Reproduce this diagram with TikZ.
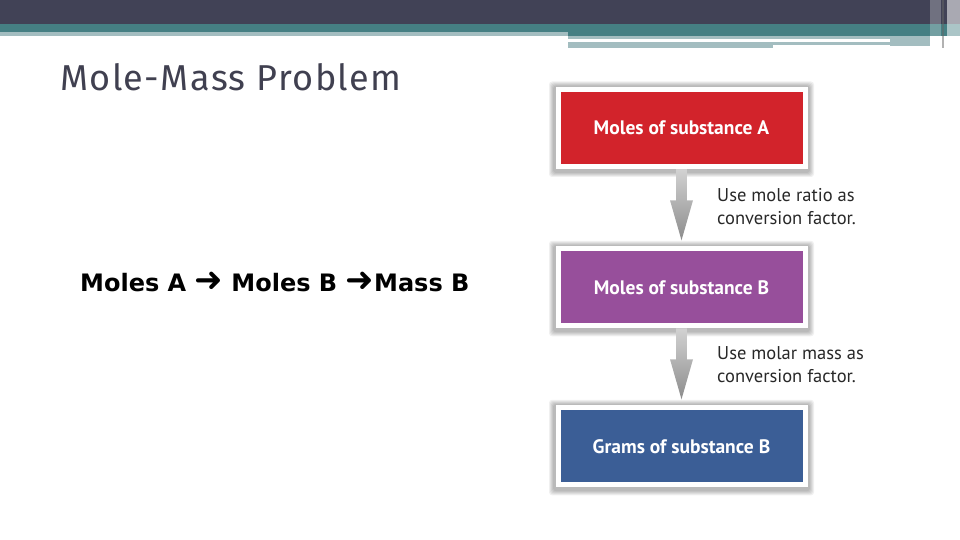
\documentclass[tikz,border=0pt]{standalone}
\usepackage{fontspec}
\setmainfont{PT Sans}
\newfontfamily\titlefont[LetterSpace=4]{Fira Sans}
\newfontfamily\bodyfont{DejaVu Sans}
\usetikzlibrary{calc}
\pgfdeclarelayer{background}
\pgfsetlayers{background,main}
\definecolor{topdark}{RGB}{65,66,86}
\definecolor{teal}{RGB}{69,127,131}
\definecolor{lightteal}{RGB}{163,189,192}
\definecolor{titlegray}{RGB}{64,64,80}
\definecolor{boxred}{RGB}{210,35,43}
\definecolor{boxpurple}{RGB}{151,79,155}
\definecolor{boxblue}{RGB}{59,94,150}
\definecolor{arrowtop}{RGB}{210,210,210}
\definecolor{arrowbot}{RGB}{140,140,140}
\definecolor{labelgray}{RGB}{40,40,40}
\tikzset{
  flowbox/.style={draw=white, line width=5pt, minimum width=247pt, minimum height=77pt,
    inner sep=0pt, text=white, font=\fontsize{19.5}{22}\selectfont\bfseries},
  sidelabel/.style={anchor=north west, align=left, inner sep=0pt, text=labelgray,
    font=\fontsize{18.5}{23}\selectfont},
  flowarrow/.style={top color=arrowtop, bottom color=arrowbot},
  glowlayer/.style={fill=black, opacity=0.06, rounded corners=3pt}
}
\newcommand{\boxglow}[1]{%
  \foreach \g in {2.5,3.5,4.5,5.5,6.5}{%
    \fill[glowlayer] ($(#1.south west)+(-\g pt,-\g pt-1.5pt)$) rectangle ($(#1.north east)+(\g pt,\g pt-1pt)$);
  }}
\begin{document}
\begin{tikzpicture}[x=1pt,y=-1pt]
\useasboundingbox (0,0) rectangle (960,540);
\begin{pgfonlayer}{background}
\fill[white] (0,0) rectangle (960,540);
\end{pgfonlayer}
% top banner
\fill[topdark] (0,0) rectangle (960,24);
\fill[teal] (0,24) rectangle (960,32);
\fill[teal] (568,32) rectangle (960,36);
\fill[lightteal] (0,32) rectangle (568,36);
\fill[lightteal] (568,36) rectangle (930,39);
\fill[lightteal] (568,42) rectangle (773,48.5);
\fill[lightteal] (773,42) rectangle (890,45.3);
\fill[lightteal] (890,39) rectangle (930,46);
\fill[white, opacity=0.25] (930,0) rectangle (941,48);
\fill[white, opacity=0.55] (947,0) rectangle (960,48);
\fill[black!60, opacity=0.5] (942,0) rectangle (944,48);
% title
\node[anchor=base west, inner sep=0pt, text=titlegray, font=\titlefont\fontsize{36}{40}\selectfont]
  (title) at (60,91) {Mole-Mass Problem};
% body text
\node[anchor=base west, inner sep=0pt, font=\bodyfont\bfseries\fontsize{24}{28}\selectfont]
  (body) at (80,291.5) {Moles A {\fontsize{34}{34}\selectfont ➜} Moles B {\fontsize{34}{34}\selectfont ➜}Mass B};
% flowchart boxes
\node[flowbox, fill=boxred] (A) at (681.5,128) {Moles of substance A};
\node[flowbox, fill=boxpurple] (B) at (681.5,287.3) {Moles of substance B};
\node[flowbox, fill=boxblue] (C) at (681.5,446.3) {Grams of substance B};
\begin{pgfonlayer}{background}
\boxglow{A}
\boxglow{B}
\boxglow{C}
\shade[flowarrow] let \p1=(A.south), \p2=(B.north) in
  (\x1-5.3pt,\y1) -- (\x1+5.3pt,\y1) -- (\x1+5.3pt,\y2+46pt) -- (\x1+11.5pt,\y2+46pt)
  -- (\x1,\y2+6pt) -- (\x1-11.5pt,\y2+46pt) -- (\x1-5.3pt,\y2+46pt) -- cycle;
\shade[flowarrow] let \p1=(B.south), \p2=(C.north) in
  (\x1-5.3pt,\y1) -- (\x1+5.3pt,\y1) -- (\x1+5.3pt,\y2+46pt) -- (\x1+11.5pt,\y2+46pt)
  -- (\x1,\y2+6pt) -- (\x1-11.5pt,\y2+46pt) -- (\x1-5.3pt,\y2+46pt) -- cycle;
\end{pgfonlayer}
% side labels
\node[sidelabel] (L1) at (717,188) {Use mole ratio as\\conversion factor.};
\node[sidelabel] (L2) at (717,346) {Use molar mass as\\conversion factor.};
\end{tikzpicture}
\end{document}
